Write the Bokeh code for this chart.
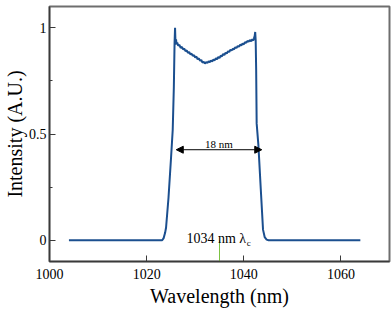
from bokeh.plotting import figure
from bokeh.models import Range1d, FixedTicker, Arrow, NormalHead, Label
from bokeh.embed import file_html
from bokeh.resources import INLINE

# Spectrum: wavelength (nm) and normalised intensity
wavelength = [
    1004.0, 1023.2, 1023.5, 1023.8, 1024.0, 1024.5, 1025.0, 1025.37, 1025.6, 1025.75,
    1025.85, 1025.95, 1026.05, 1026.15, 1026.3, 1026.5, 1026.75, 1027.0, 1027.25, 1027.5,
    1027.75, 1028.0, 1028.25, 1028.5, 1028.75, 1029.0, 1029.25, 1029.5, 1029.75, 1030.0,
    1030.25, 1030.5, 1030.75, 1031.0, 1031.25, 1031.5, 1031.75, 1032.0, 1032.25, 1032.5,
    1032.75, 1033.0, 1033.25, 1033.5, 1033.75, 1034.0, 1034.25, 1034.5, 1034.75, 1035.0,
    1035.25, 1035.5, 1035.75, 1036.0, 1036.25, 1036.5, 1036.75, 1037.0, 1037.25, 1037.5,
    1037.75, 1038.0, 1038.25, 1038.5, 1038.75, 1039.0, 1039.25, 1039.5, 1039.75, 1040.0,
    1040.25, 1040.5, 1040.75, 1041.0, 1041.25, 1041.5, 1041.75, 1041.95, 1042.1, 1042.25,
    1042.35, 1042.45, 1042.55, 1042.65, 1043.0, 1043.5, 1043.96, 1044.3, 1044.7, 1045.1,
    1064.0,
]
intensity = [
    0.0, 0.0, 0.01, 0.035, 0.06, 0.2, 0.38, 0.52, 0.72, 0.93,
    1.0, 0.92, 0.945, 0.925, 0.93, 0.915, 0.92, 0.905, 0.91, 0.898,
    0.902, 0.89, 0.893, 0.882, 0.886, 0.875, 0.878, 0.868, 0.871, 0.86,
    0.864, 0.852, 0.856, 0.845, 0.848, 0.836, 0.84, 0.832, 0.838, 0.834,
    0.842, 0.838, 0.846, 0.842, 0.85, 0.847, 0.856, 0.852, 0.862, 0.858,
    0.868, 0.866, 0.876, 0.872, 0.882, 0.879, 0.889, 0.886, 0.896, 0.893,
    0.901, 0.899, 0.908, 0.905, 0.914, 0.911, 0.92, 0.917, 0.926, 0.922,
    0.932, 0.929, 0.938, 0.934, 0.942, 0.937, 0.945, 0.94, 0.95, 0.962,
    0.98, 0.94, 0.8, 0.55, 0.45, 0.24, 0.05, 0.015, 0.003, 0.0,
    0.0,
]

x_ticks = [1000, 1020, 1040, 1060]
y_ticks = [0, 0.5, 1]
y_minor = [0.25, 0.75]

fwhm_left, fwhm_right, fwhm_level = 1026.1, 1043.7, 0.426
fwhm_text = "18 nm"
center_wl = 1035.0
center_text = "1034 nm λ"

SERIF = "Liberation Serif"

p = figure(width=391, height=311, output_backend="svg", toolbar_location=None,
           x_range=Range1d(1000, 1070), y_range=Range1d(-0.1, 1.1),
           min_border_left=45, min_border_right=2, min_border_top=6, min_border_bottom=50)
p.background_fill_color = "white"
p.border_fill_color = "white"
p.grid.visible = False
p.outline_line_color = "#6e6e6e"
p.outline_line_width = 2

p.xaxis.ticker = FixedTicker(ticks=x_ticks, minor_ticks=[])
p.yaxis.ticker = FixedTicker(ticks=y_ticks, minor_ticks=y_minor)
p.yaxis.major_label_overrides = {0: "0", 0.5: "0.5", 1: "1"}

for ax in (p.xaxis[0], p.yaxis[0]):
    ax.axis_line_color = "#3a3a3a"
    ax.axis_line_width = 1.5
    ax.major_tick_in = 6
    ax.major_tick_out = 0
    ax.minor_tick_in = 3
    ax.minor_tick_out = 0
    ax.major_tick_line_color = "#3a3a3a"
    ax.minor_tick_line_color = "#3a3a3a"
    ax.major_label_text_font = SERIF
    ax.major_label_text_font_size = "14px"
    ax.major_label_text_color = "black"
    ax.axis_label_text_font = SERIF
    ax.axis_label_text_font_size = "20px"
    ax.axis_label_text_font_style = "normal"
    ax.axis_label_text_color = "black"

p.xaxis.axis_label = "Wavelength (nm)"
p.yaxis.axis_label = "Intensity (A.U.)"
p.xaxis.major_label_standoff = 7
p.xaxis.axis_label_standoff = 3
p.yaxis.major_label_standoff = 3
p.yaxis.axis_label_standoff = 0

# spectrum
p.line(wavelength, intensity, line_color="#1b4f8f", line_width=2)

# FWHM double arrow and its label
p.add_layout(Arrow(x_start=fwhm_left, y_start=fwhm_level, x_end=fwhm_right, y_end=fwhm_level,
                   line_color="black", line_width=1,
                   start=NormalHead(size=7, fill_color="black", line_color="black"),
                   end=NormalHead(size=7, fill_color="black", line_color="black")))
p.add_layout(Label(x=(fwhm_left + fwhm_right) / 2, y=fwhm_level + 0.025, text=fwhm_text,
                   text_align="center", text_baseline="alphabetic",
                   text_font=SERIF, text_font_size="11px", text_color="black"))

# centre wavelength marker
p.segment(x0=[center_wl], y0=[0], x1=[center_wl], y1=[-0.1], line_color="#7cc242", line_width=1)
p.add_layout(Label(x=1028.2, y=0.009, text=center_text, text_align="left",
                   text_baseline="alphabetic", text_font=SERIF, text_font_size="14px",
                   text_color="black"))
p.add_layout(Label(x=1040.6, y=-0.014, text="c", text_align="left",
                   text_baseline="alphabetic", text_font=SERIF, text_font_size="9px",
                   text_color="black"))

open("out.html", "w").write(file_html(p, INLINE))
